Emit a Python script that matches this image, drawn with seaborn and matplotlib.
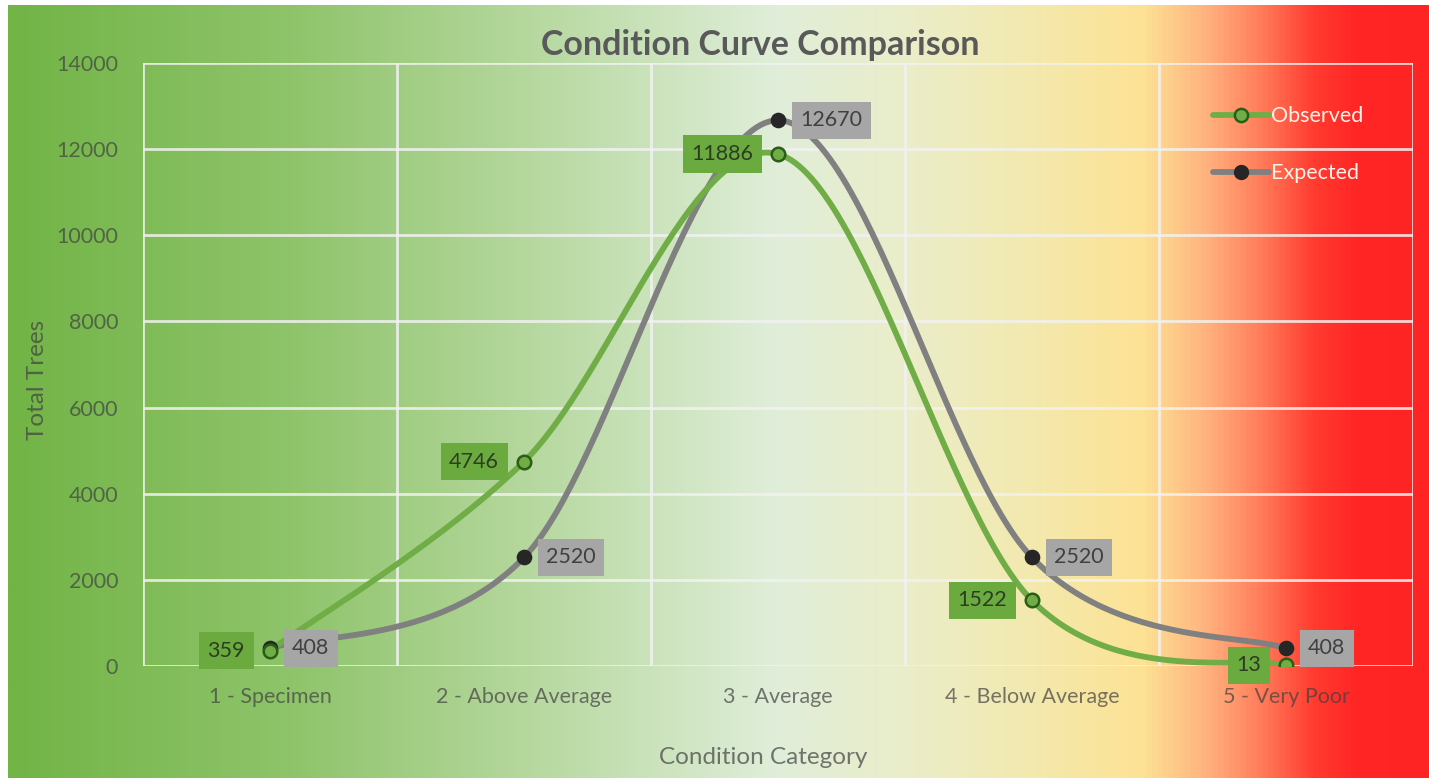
import matplotlib
matplotlib.use("Agg")
import matplotlib.pyplot as plt
from matplotlib.colors import LinearSegmentedColormap
from matplotlib.lines import Line2D
import numpy as np
import pandas as pd
import seaborn as sns

categories = ["1 - Specimen", "2 - Above Average", "3 - Average", "4 - Below Average", "5 - Very Poor"]
observed = [359, 4746, 11886, 1522, 13]
expected = [408, 2520, 12670, 2520, 408]

green = "#70ad47"
grey = "#808080"
text_col = "#404040"
soft_text = (0.25, 0.25, 0.25, 0.7)

sns.set_style("white")
plt.rcParams["font.family"] = ["Lato", "DejaVu Sans"]


def smooth(xs, ys, n=60):
    # Excel-style smoothed line: Catmull-Rom segments as cubic Bezier curves
    pts = np.column_stack([xs, ys]).astype(float)
    ext = np.vstack([pts[0], pts, pts[-1]])
    t = np.linspace(0, 1, n)[:, None]
    out = []
    for i in range(1, len(ext) - 2):
        p0, p3 = ext[i], ext[i + 1]
        p1 = p0 + (ext[i + 1] - ext[i - 1]) / 6
        p2 = p3 - (ext[i + 2] - ext[i]) / 6
        out.append((1 - t) ** 3 * p0 + 3 * (1 - t) ** 2 * t * p1 + 3 * (1 - t) * t ** 2 * p2 + t ** 3 * p3)
    seg = np.vstack(out)
    return seg[:, 0], seg[:, 1]


fig = plt.figure(figsize=(14.29, 7.78), dpi=100)
fig.patch.set_facecolor("white")

# gradient background
bg = fig.add_axes([8 / 1429, 0, 1 - 8 / 1429, 1 - 5 / 778])
cmap = LinearSegmentedColormap.from_list("cond", [
    (0.0, "#72b446"), (0.2, "#8fc46b"), (0.36, "#b4d79c"), (0.54, "#e0eed9"),
    (0.64, "#ebedc8"), (0.72, "#f3e9ae"), (0.80, "#fde294"), (0.845, "#ffb27e"),
    (0.885, "#ff7a58"), (0.92, "#ff3c30"), (0.95, "#ff2626"), (1.0, "#ff2424")])
bg.imshow(np.linspace(0, 1, 512)[None, :], aspect="auto", cmap=cmap, extent=[0, 1, 0, 1])
bg.axis("off")

ax = fig.add_axes([143 / 1429, 1 - 666 / 778, 1270 / 1429, 603 / 778])
ax.set_facecolor("none")

df = pd.DataFrame({"cat": list(range(len(categories))) * 2,
                   "value": observed + expected,
                   "series": ["Observed"] * 5 + ["Expected"] * 5})

xs = np.arange(len(categories))
sx, sy = smooth(xs, expected)
ax.plot(sx, sy, color=grey, lw=4.2, solid_capstyle="round", zorder=3)
sx, sy = smooth(xs, observed)
ax.plot(sx, sy, color=green, lw=4.2, solid_capstyle="round", zorder=3)

sns.scatterplot(data=df[df.series == "Expected"], x="cat", y="value", color="#262626",
                s=105, edgecolor="#262626", linewidth=1, zorder=5, ax=ax, legend=False)
sns.scatterplot(data=df[df.series == "Observed"], x="cat", y="value", color=green,
                s=95, edgecolor="#2a5e14", linewidth=1.8, zorder=6, ax=ax, legend=False)

for i, v in enumerate(observed):
    ax.annotate(str(v), (i, v), xytext=(-18, 0), textcoords="offset points", ha="right", va="center",
                fontsize=15.5, color="#2c3d22", zorder=7,
                bbox=dict(boxstyle="square,pad=0.4", fc="#6aaa3f", ec="none"))
for i, v in enumerate(expected):
    ax.annotate(str(v), (i, v), xytext=(16, 0), textcoords="offset points", ha="left", va="center",
                fontsize=15.5, color=text_col, zorder=7,
                bbox=dict(boxstyle="square,pad=0.4", fc="#a6a6a6", ec="none"))

ax.set_xlim(-0.5, 4.5)
ax.set_ylim(0, 14000)
ax.set_yticks(np.arange(0, 14001, 2000))
ax.set_xticks(xs)
ax.set_xticklabels(categories)
ax.set_xticks(np.arange(-0.5, 4.6, 1), minor=True)
ax.grid(False)
ax.grid(axis="y", which="major", color="#f2f2f2", lw=2, alpha=0.85)
ax.grid(axis="x", which="minor", color="#f2f2f2", lw=2, alpha=0.85)
for sp in ax.spines.values():
    sp.set_visible(False)
ax.tick_params(axis="both", which="both", length=0)
ax.tick_params(axis="y", labelsize=15.5, labelcolor=soft_text, pad=18)
ax.tick_params(axis="x", labelsize=15.5, labelcolor=soft_text, pad=15)

ax.set_xlabel("Condition Category", fontsize=17.5, color=soft_text)
ax.xaxis.set_label_coords(0.488, -0.135)
ax.set_ylabel("Total Trees", fontsize=17.5, color=soft_text)
ax.yaxis.set_label_coords(-0.075, 0.475)
fig.text(760 / 1429, 1 - 45 / 778, "Condition Curve Comparison", ha="center", va="center",
         fontsize=24.5, fontweight="bold", color="#595959")

handles = [Line2D([], [], color=green, lw=4.2, marker="o", markersize=9.5,
                  markerfacecolor=green, markeredgecolor="#2a5e14", markeredgewidth=1.8),
           Line2D([], [], color=grey, lw=4.2, marker="o", markersize=10,
                  markerfacecolor="#262626", markeredgecolor="#262626")]
leg = ax.legend(handles, ["Observed", "Expected"], loc="upper left", bbox_to_anchor=(0.827, 0.96),
                frameon=False, fontsize=15.5, handlelength=2.6, handletextpad=0.1, labelspacing=1.7)
for t in leg.get_texts():
    t.set_color("#fff4ea")

fig.savefig("out.png", dpi=100)
